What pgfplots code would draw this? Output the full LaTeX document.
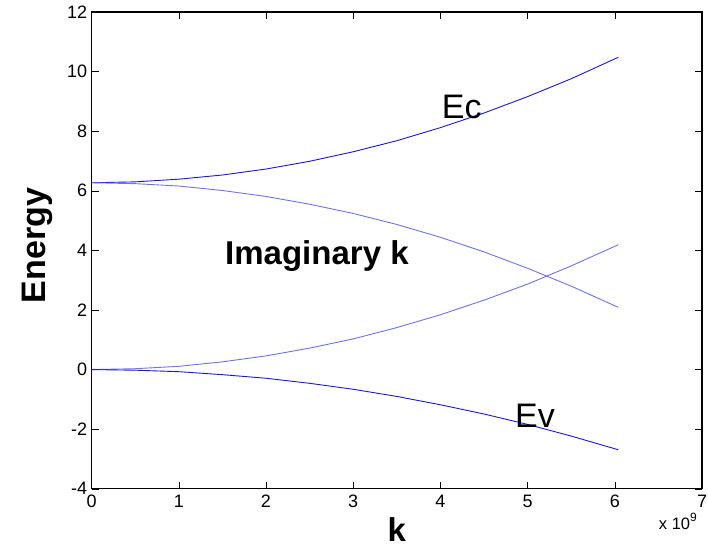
\documentclass[border=0pt]{standalone}
\usepackage{pgfplots}
\pgfplotsset{compat=1.18}
\usepackage{fontspec}
\setmainfont{Liberation Sans}
\definecolor{dkblue}{RGB}{20,20,255}
\definecolor{ltblue}{RGB}{110,110,255}
\begin{document}
\begin{tikzpicture}
\begin{axis}[
  scale only axis,
  width=610.4pt, height=476.8pt,
  xmin=0, xmax=7, ymin=-4, ymax=12,
  xtick={0,1,2,3,4,5,6,7},
  ytick={-4,-2,0,2,4,6,8,10,12},
  xticklabels={0,1,2,3,4,5,6,7},
  yticklabels={-4,-2,0,2,4,6,8,10,12},
  scaled x ticks=false,
  tick align=inside,
  major tick length=7pt,
  axis line style={line width=1.2pt},
  tick style={line width=0.6pt, black},
  tick label style={font=\fontsize{18}{21}\selectfont},
  xticklabel style={yshift=-3pt},
  yticklabel style={xshift=-1pt},
  xlabel={k},
  ylabel={Energy},
  xlabel style={at={(rel axis cs:0.5,-0.086)}, anchor=center, font=\bfseries\fontsize{33}{36}\selectfont},
  ylabel style={at={(rel axis cs:-0.088,0.51)}, anchor=center, font=\bfseries\fontsize{34}{36}\selectfont},
  clip=false,
]
% Ec
\addplot[dkblue, line width=0.9pt] coordinates {
(0,6.27) (0.5,6.30) (1,6.39) (1.5,6.53) (2,6.73) (2.5,6.99) (3,7.31) (3.5,7.68) (4,8.12) (4.5,8.61) (5,9.16) (5.5,9.76) (6.04,10.48)};
% imaginary (descending from Ec)
\addplot[ltblue, line width=0.9pt] coordinates {
(0,6.27) (0.5,6.24) (1,6.16) (1.5,6.01) (2,5.81) (2.5,5.55) (3,5.24) (3.5,4.87) (4,4.44) (4.5,3.95) (5,3.40) (5.5,2.80) (6.04,2.09)};
% imaginary (rising from Ev)
\addplot[ltblue, line width=0.9pt] coordinates {
(0,0) (0.5,0.03) (1,0.11) (1.5,0.26) (2,0.46) (2.5,0.72) (3,1.03) (3.5,1.41) (4,1.84) (4.5,2.33) (5,2.87) (5.5,3.48) (6.04,4.19)};
% Ev
\addplot[dkblue, line width=0.9pt] coordinates {
(0,0) (0.5,-0.02) (1,-0.07) (1.5,-0.17) (2,-0.29) (2.5,-0.46) (3,-0.66) (3.5,-0.90) (4,-1.18) (4.5,-1.49) (5,-1.84) (5.5,-2.23) (6.04,-2.69)};
\node[anchor=base west, inner sep=0pt, font=\fontsize{34}{36}\selectfont] at (axis cs:4.015,8.42) {Ec};
\node[anchor=base west, inner sep=0pt, font=\fontsize{34}{36}\selectfont] at (axis cs:4.855,-1.94) {Ev};
\node[anchor=base west, inner sep=0pt, font=\bfseries\fontsize{33}{36}\selectfont] at (axis cs:1.53,3.52) {Imaginary k};
\node[anchor=base east, inner sep=0pt, font=\fontsize{16.5}{18}\selectfont] at ([shift={(-5pt,-41pt)}]rel axis cs:1,0) {x 10\raisebox{8pt}{\fontsize{12}{13}\selectfont 9}};
\end{axis}
\coordinate (bl) at ([shift={(-91.6pt,-61pt)}]current axis.south west);
\coordinate (tr) at ([shift={(6pt,12pt)}]current axis.north east);
\pgfresetboundingbox
\useasboundingbox (bl) rectangle (tr);
\end{tikzpicture}
\end{document}
